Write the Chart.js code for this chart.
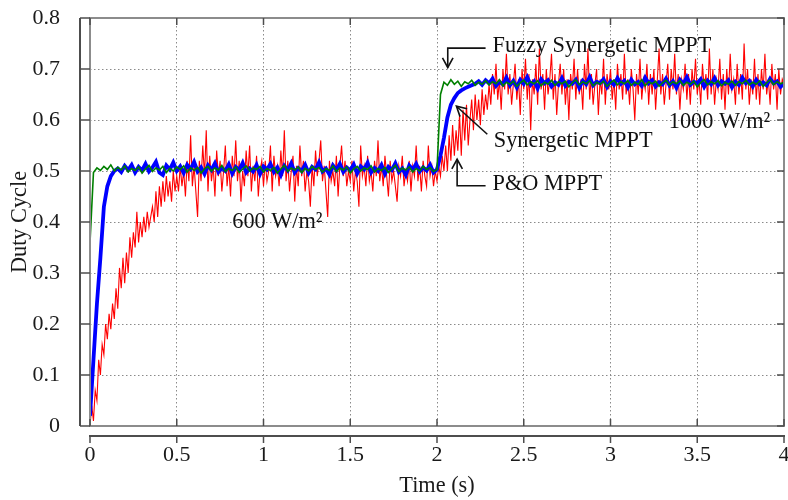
<!DOCTYPE html>
<html><head><meta charset="utf-8">
<script src="https://cdn.jsdelivr.net/npm/chart.js@4"></script>
<style>html,body{margin:0;padding:0;background:#fff}canvas{display:block}</style>
</head><body><canvas id="c" width="788" height="500"></canvas>
<script>
// ---- data ----
const redStep = 0.01;    // s between P&O samples
const smoothStep = 0.02; // s between Synergetic / Fuzzy samples
const xTickValues = [0, 0.5, 1, 1.5, 2, 2.5, 3, 3.5, 4];
const yTickValues = [0, 0.1, 0.2, 0.3, 0.4, 0.5, 0.6, 0.7, 0.8];

const poValues = [
0.00,0.04,0.01,0.07,0.05,0.13,0.10,0.16,0.14,0.20,
0.17,0.22,0.19,0.24,0.21,0.27,0.23,0.31,0.27,0.33,
0.28,0.34,0.30,0.37,0.33,0.38,0.35,0.42,0.36,0.40,
0.37,0.41,0.38,0.42,0.39,0.41,0.43,0.40,0.46,0.41,
0.47,0.43,0.48,0.44,0.49,0.45,0.48,0.44,0.50,0.46,
0.49,0.46,0.51,0.47,0.50,0.45,0.52,0.48,0.57,0.47,
0.51,0.46,0.41,0.52,0.48,0.55,0.49,0.58,0.46,0.53,
0.48,0.51,0.45,0.54,0.49,0.52,0.46,0.50,0.55,0.47,
0.51,0.45,0.53,0.49,0.56,0.48,0.52,0.44,0.50,0.47,
0.54,0.49,0.55,0.46,0.51,0.48,0.53,0.45,0.50,0.52,
0.47,0.52,0.48,0.50,0.55,0.46,0.53,0.49,0.51,0.47,
0.54,0.49,0.58,0.48,0.52,0.46,0.50,0.53,0.44,0.51,
0.47,0.55,0.49,0.52,0.46,0.50,0.48,0.43,0.51,0.47,
0.54,0.49,0.52,0.56,0.48,0.51,0.46,0.41,0.52,0.48,
0.50,0.47,0.53,0.45,0.51,0.55,0.49,0.52,0.47,0.50,
0.48,0.52,0.46,0.50,0.48,0.43,0.55,0.49,0.51,0.47,
0.53,0.48,0.50,0.46,0.52,0.49,0.56,0.48,0.51,0.47,
0.53,0.49,0.45,0.52,0.48,0.50,0.47,0.44,0.51,0.49,
0.53,0.47,0.50,0.48,0.52,0.46,0.51,0.49,0.55,0.48,
0.51,0.46,0.52,0.49,0.47,0.55,0.49,0.51,0.47,0.50,
0.48,0.51,0.49,0.53,0.50,0.55,0.50,0.57,0.52,0.59,
0.53,0.58,0.54,0.61,0.53,0.62,0.56,0.63,0.55,0.60,
0.64,0.58,0.65,0.60,0.64,0.59,0.66,0.61,0.65,0.62,
0.67,0.63,0.69,0.65,0.71,0.64,0.68,0.62,0.70,0.66,
0.73,0.65,0.69,0.63,0.67,0.71,0.64,0.68,0.61,0.70,
0.66,0.72,0.64,0.69,0.58,0.68,0.65,0.71,0.63,0.74,
0.66,0.69,0.62,0.70,0.65,0.68,0.73,0.64,0.69,0.61,
0.67,0.71,0.65,0.70,0.63,0.68,0.60,0.69,0.66,0.72,
0.64,0.70,0.65,0.68,0.62,0.71,0.66,0.74,0.64,0.69,
0.63,0.67,0.70,0.61,0.68,0.65,0.72,0.63,0.69,0.66,
0.70,0.64,0.68,0.62,0.71,0.66,0.69,0.64,0.73,0.65,
0.68,0.63,0.70,0.66,0.60,0.69,0.65,0.72,0.64,0.68,
0.66,0.71,0.63,0.69,0.65,0.70,0.62,0.68,0.74,0.65,
0.69,0.63,0.67,0.71,0.64,0.70,0.66,0.73,0.65,0.69,
0.62,0.68,0.66,0.71,0.64,0.69,0.63,0.70,0.66,0.72,
0.65,0.68,0.63,0.71,0.66,0.69,0.64,0.74,0.65,0.70,
0.63,0.68,0.66,0.72,0.64,0.69,0.62,0.70,0.65,0.73,
0.66,0.68,0.63,0.71,0.65,0.69,0.64,0.75,0.66,0.70,
0.63,0.68,0.65,0.72,0.64,0.69,0.63,0.70,0.66,0.73,
0.65,0.68,0.63,0.71,0.66,0.69,0.62,0.70,0.65,0.68,
0.67
];

const synergeticValues = [
0.020,0.130,0.240,0.330,0.430,0.470,0.490,0.500,0.505,0.498,
0.510,0.502,0.512,0.497,0.508,0.501,0.514,0.499,0.507,0.518,
0.497,0.492,0.511,0.503,0.517,0.500,0.509,0.496,0.512,0.504,
0.518,0.499,0.507,0.494,0.511,0.502,0.515,0.498,0.506,0.500,
0.513,0.495,0.508,0.502,0.516,0.497,0.505,0.499,0.512,0.494,
0.509,0.503,0.514,0.498,0.507,0.492,0.510,0.501,0.515,0.497,
0.506,0.500,0.512,0.496,0.508,0.503,0.517,0.499,0.505,0.493,
0.511,0.502,0.514,0.498,0.507,0.501,0.513,0.495,0.509,0.503,
0.516,0.497,0.506,0.500,0.512,0.494,0.508,0.502,0.515,0.498,
0.505,0.492,0.511,0.503,0.514,0.499,0.507,0.501,0.512,0.497,
0.503,0.530,0.565,0.605,0.630,0.643,0.653,0.658,0.662,0.665,
0.668,0.671,0.676,0.669,0.678,0.672,0.681,0.667,0.675,0.670,
0.683,0.668,0.677,0.664,0.679,0.671,0.684,0.669,0.676,0.662,
0.680,0.672,0.678,0.666,0.674,0.669,0.682,0.667,0.675,0.671,
0.679,0.663,0.677,0.670,0.684,0.668,0.675,0.672,0.680,0.665,
0.676,0.669,0.682,0.671,0.677,0.664,0.679,0.670,0.675,0.667,
0.683,0.672,0.678,0.666,0.674,0.670,0.681,0.668,0.676,0.663,
0.679,0.671,0.684,0.669,0.675,0.672,0.680,0.665,0.677,0.670,
0.682,0.668,0.676,0.671,0.678,0.664,0.675,0.669,0.683,0.672,
0.677,0.666,0.679,0.670,0.674,0.668,0.681,0.672,0.676,0.665,
0.671
];

const fuzzyValues = [
0.360,0.497,0.506,0.501,0.509,0.503,0.512,0.500,0.507,0.502,
0.510,0.498,0.505,0.501,0.508,0.496,0.504,0.511,0.499,0.506,
0.502,0.509,0.497,0.505,0.500,0.508,0.503,0.510,0.498,0.506,
0.501,0.507,0.496,0.504,0.509,0.500,0.506,0.502,0.511,0.499,
0.505,0.501,0.508,0.497,0.504,0.510,0.500,0.506,0.503,0.509,
0.498,0.505,0.501,0.507,0.496,0.504,0.511,0.499,0.506,0.502,
0.508,0.497,0.505,0.500,0.509,0.503,0.507,0.498,0.505,0.501,
0.510,0.499,0.506,0.502,0.508,0.496,0.504,0.509,0.500,0.506,
0.503,0.510,0.498,0.505,0.501,0.507,0.497,0.504,0.511,0.499,
0.506,0.502,0.508,0.498,0.505,0.500,0.509,0.503,0.507,0.499,
0.503,0.650,0.674,0.668,0.679,0.670,0.676,0.666,0.675,0.671,
0.678,0.668,0.674,0.670,0.677,0.669,0.675,0.671,0.679,0.667,
0.674,0.670,0.676,0.666,0.673,0.678,0.669,0.675,0.671,0.677,
0.667,0.674,0.670,0.678,0.668,0.675,0.671,0.676,0.665,0.673,
0.679,0.669,0.675,0.671,0.677,0.667,0.674,0.670,0.676,0.666,
0.673,0.678,0.669,0.675,0.671,0.677,0.668,0.674,0.670,0.679,
0.667,0.675,0.671,0.676,0.666,0.673,0.678,0.669,0.675,0.671,
0.677,0.668,0.674,0.670,0.676,0.665,0.673,0.679,0.669,0.675,
0.671,0.677,0.667,0.674,0.670,0.676,0.668,0.675,0.671,0.678,
0.669,0.674,0.670,0.677,0.666,0.673,0.679,0.669,0.675,0.671,
0.674
];

// ---- chart ----
const FONT = '"Liberation Serif", "Times New Roman", serif';
const FS = 22;
const FS_NOTE = 22.3;
function toPoints(vals, step) {
  return vals.map((v, i) => ({ x: Math.round(i * step * 1000) / 1000, y: v }));
}

const frame = {
  id: 'frame',
  afterDraw(chart) {
    const { ctx, chartArea: a, scales: { x, y } } = chart;
    const axX = a.left - 10, axY = a.bottom + 10, tl = 7;
    const seg = (x1, y1, x2, y2) => { ctx.beginPath(); ctx.moveTo(x1, y1); ctx.lineTo(x2, y2); ctx.stroke(); };
    ctx.save();
    // plot box
    ctx.strokeStyle = '#8c8c8c'; ctx.lineWidth = 2;
    ctx.strokeRect(a.left, a.top, a.right - a.left, a.bottom - a.top);
    // offset axes
    ctx.strokeStyle = '#4d4d4d'; ctx.lineWidth = 2;
    seg(axX, a.top, axX, a.bottom);
    seg(a.left - 1, axY, a.right + 1, axY);
    ctx.lineWidth = 1.5;
    xTickValues.forEach(v => {
      const px = x.getPixelForValue(v);
      seg(px, a.bottom, px, a.bottom - tl);
      seg(px, a.top, px, a.top + tl);
      seg(px, axY, px, axY + tl);
    });
    yTickValues.forEach(v => {
      const py = y.getPixelForValue(v);
      seg(axX, py, a.left, py);
      seg(a.right, py, a.right - tl, py);
    });
    // annotations
    ctx.fillStyle = '#111'; ctx.strokeStyle = '#111'; ctx.lineWidth = 1.6;
    ctx.font = FS_NOTE + 'px ' + FONT; ctx.textBaseline = 'middle'; ctx.textAlign = 'left';
    const P = (t, v) => [x.getPixelForValue(t), y.getPixelForValue(v)];
    const arrow = (pts) => {
      const p = pts.map(q => P(q[0], q[1]));
      ctx.beginPath(); ctx.moveTo(p[0][0], p[0][1]);
      for (let i = 1; i < p.length; i++) ctx.lineTo(p[i][0], p[i][1]);
      ctx.stroke();
      const [ex, ey] = p[p.length - 1], [sx, sy] = p[p.length - 2];
      const ang = Math.atan2(ey - sy, ex - sx), L = 11, w = 0.5;
      ctx.beginPath();
      ctx.moveTo(ex - L * Math.cos(ang - w), ey - L * Math.sin(ang - w));
      ctx.lineTo(ex, ey);
      ctx.lineTo(ex - L * Math.cos(ang + w), ey - L * Math.sin(ang + w));
      ctx.stroke();
    };
    const label = (txt, t, v) => { const [px, py] = P(t, v); ctx.fillText(txt, px, py); };
    label('Fuzzy Synergetic MPPT', 2.32, 0.744);
    arrow([[2.28, 0.741], [2.062, 0.741], [2.062, 0.703]]);
    label('Synergetic MPPT', 2.327, 0.559);
    arrow([[2.29, 0.572], [2.112, 0.627]]);
    label('P&O MPPT', 2.32, 0.474);
    arrow([[2.28, 0.471], [2.116, 0.471], [2.116, 0.523]]);
    label('600 W/m²', 0.82, 0.399);
    label('1000 W/m²', 3.336, 0.596);
    ctx.restore();
  }
};

const gridColor = (edge) => (c) => (c.tick && (c.tick.value === edge[0] || Math.abs(c.tick.value - edge[1]) < 1e-9)) ? 'rgba(0,0,0,0)' : '#8a8a8a';
const noPad = s => { s.paddingTop = 0; s.paddingBottom = 0; s.paddingLeft = 0; s.paddingRight = 0; };

new Chart(document.getElementById('c'), {
  type: 'line',
  data: {
    datasets: [
      { label: 'P&O MPPT', data: toPoints(poValues, redStep), borderColor: '#ff0000', borderWidth: 1.1, pointRadius: 0, tension: 0, order: 3 },
      { label: 'Synergetic MPPT', data: toPoints(synergeticValues, smoothStep), borderColor: '#0000ff', borderWidth: 3.8, pointRadius: 0, tension: 0, order: 2 },
      { label: 'Fuzzy Synergetic MPPT', data: toPoints(fuzzyValues, smoothStep), borderColor: '#008000', borderWidth: 1.6, pointRadius: 0, tension: 0, order: 1 }
    ]
  },
  options: {
    responsive: false, animation: false,
    layout: { padding: { top: 18, right: 4, left: 0, bottom: 0 } },
    plugins: { legend: { display: false }, tooltip: { enabled: false } },
    scales: {
      x: {
        type: 'linear', min: 0, max: 4,
        afterBuildTicks: s => { s.ticks = xTickValues.map(v => ({ value: v })); },
        afterFit: s => { s.height = 74; noPad(s); },
        ticks: { padding: 16, color: '#1a1a1a', font: { family: FONT, size: FS }, callback: v => String(v), maxRotation: 0 },
        grid: { color: gridColor([0, 4]), lineWidth: 1, drawTicks: false },
        border: { display: false, dash: [1.5, 2.5] },
        title: { display: true, text: 'Time (s)', color: '#1a1a1a', font: { family: FONT, size: FS_NOTE }, padding: { top: 0, bottom: 0 } }
      },
      y: {
        type: 'linear', min: 0, max: 0.8,
        afterBuildTicks: s => { s.ticks = yTickValues.map(v => ({ value: v })); },
        afterFit: s => { s.width = 90; noPad(s); },
        ticks: { padding: 30, color: '#1a1a1a', font: { family: FONT, size: FS }, callback: v => String(Math.round(v * 10) / 10) },
        grid: { color: gridColor([0, 0.8]), lineWidth: 1, drawTicks: false },
        border: { display: false, dash: [1.5, 2.5] },
        title: { display: true, text: 'Duty Cycle', color: '#1a1a1a', font: { family: FONT, size: FS_NOTE }, padding: { top: 7, bottom: 0 } }
      }
    }
  },
  plugins: [frame]
});
</script></body></html>
